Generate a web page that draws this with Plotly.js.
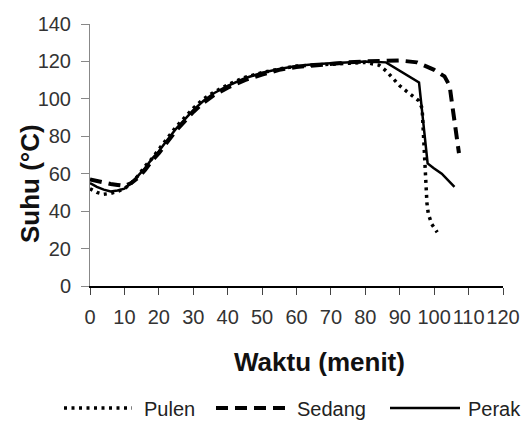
<!DOCTYPE html>
<html>
<head>
<meta charset="utf-8">
<script src="https://cdn.plot.ly/plotly-3.0.1.min.js"></script>
<style>html,body{margin:0;padding:0;background:#fff;}#chart{width:527px;height:424px;}</style>
</head>
<body>
<div id="chart"></div>
<script>
// Waktu (menit) and Suhu (°C) for each rice type
const pulenX = [0,2,4,6,8,10,12,14,16,18,20,22,25,28,30,33,36,40,45,50,55,60,65,70,75,80,84,86,88,90,92,94.2,95.5,96.5,96.8,97,97.2,97.4,97.6,97.9,98.3,99.3,100.9];
const pulenY = [52,50,49,49.5,50.5,52,55,59,64,68,73,78,85,91,95,100,103.5,107.5,111.5,114,116,117.5,118,118.5,119,119.5,118,115,111,107,104,100.5,99,95,85,75,65,57.7,50.4,44.3,38.5,33.1,28.7];

const sedangX = [0,2,4,6,8,10,12,14,16,18,20,22,25,28,30,33,36,40,45,50,55,60,65,70,75,80,85,90,95,100,103,104.5,105,106,107.2];
const sedangY = [57,56,55,54.5,54,53.5,55,58,62,67,71,76,83,89,93,98,102,106,110,113,115.5,117,118,119,119.5,120,120.5,120.5,119.5,115.5,112,107,100,88,71];

const perakX = [0,2,4,6,8,10,12,14,16,18,20,22,25,28,30,33,36,40,45,50,55,60,65,70,75,80,86,95.6,98.1,99.8,102.2,105.9];
const perakY = [55,53,51.5,50.5,51,52,55,59,63,68,72,77,84,90,94,99,103,107,111,114,116,117.5,118.5,119,119.5,120,119.5,108.8,65.5,63,60,53];

const seriesNames = ['Pulen','Sedang','Perak'];
const xTicks = [0,10,20,30,40,50,60,70,80,90,100,110,120];
const yTicks = [0,20,40,60,80,100,120,140];

const FONT = 'Liberation Sans, Arial, sans-serif';
const styles = [
  {color:'#000', width:3.5, dash:'3px,4.5px'},
  {color:'#000', width:4, dash:'12px,7px'},
  {color:'#000', width:2.5, dash:'solid'}
];
const xs = [pulenX, sedangX, perakX];
const ys = [pulenY, sedangY, perakY];

const traces = seriesNames.map((n,i)=>({
  x: xs[i], y: ys[i], name: n, type:'scatter', mode:'lines',
  line: styles[i], showlegend:false, hoverinfo:'skip'
}));

// plot area in pixels: left 90, right 503, top 24, bottom 286
const L=90, R=503, T=24, B=286;
const px2x = p => (p-L)/(R-L);
const py2y = p => (B-p)/(B-T);

const legendItems = [
  {x0:64, x1:132, tx:142},
  {x0:216, x1:288, tx:295},
  {x0:390, x1:460, tx:466}
];
const legY = 408, legTextY = 409;

const shapes = legendItems.map((it,i)=>({
  type:'line', xref:'paper', yref:'paper',
  x0:px2x(it.x0), x1:px2x(it.x1), y0:py2y(legY), y1:py2y(legY),
  line: styles[i]
}));
const annotations = legendItems.map((it,i)=>({
  xref:'paper', yref:'paper', x:px2x(it.tx), y:py2y(legTextY),
  xanchor:'left', yanchor:'middle', showarrow:false,
  text: seriesNames[i], font:{family:FONT, size:20, color:'#222'}
}));
annotations.push({
  xref:'paper', yref:'paper', x:px2x(319), y:py2y(362),
  xanchor:'center', yanchor:'middle', showarrow:false,
  text:'<b>Waktu (menit)</b>', font:{family:FONT, size:26, color:'#111'}
});
annotations.push({
  xref:'paper', yref:'paper', x:px2x(30), y:py2y(184),
  xanchor:'center', yanchor:'middle', showarrow:false, textangle:-90,
  text:'<b>Suhu (°C)</b>', font:{family:FONT, size:26, color:'#111'}
});

const layout = {
  width:527, height:424,
  margin:{l:L, r:527-R, t:T, b:424-B, pad:0},
  paper_bgcolor:'#fff', plot_bgcolor:'#fff',
  showlegend:false,
  font:{family:FONT, color:'#333'},
  xaxis:{
    range:[0,120], tickvals:xTicks, ticktext:xTicks.map(String), tickangle:0,
    showgrid:false, zeroline:false, showline:true, linecolor:'#000', linewidth:1.5,
    ticks:'outside', ticklen:7, tickcolor:'#444', tickwidth:1,
    tickfont:{family:FONT, size:20, color:'#333'}, ticklabelstandoff:5
  },
  yaxis:{
    range:[0,140], tickvals:yTicks, ticktext:yTicks.map(String),
    showgrid:false, zeroline:false, showline:true, linecolor:'#888', linewidth:1,
    ticks:'outside', ticklen:8, tickcolor:'#888', tickwidth:1,
    tickfont:{family:FONT, size:20, color:'#333'}, ticklabelstandoff:6
  },
  shapes: shapes,
  annotations: annotations
};

Plotly.newPlot('chart', traces, layout, {staticPlot:true, displayModeBar:false});
</script>
</body>
</html>
